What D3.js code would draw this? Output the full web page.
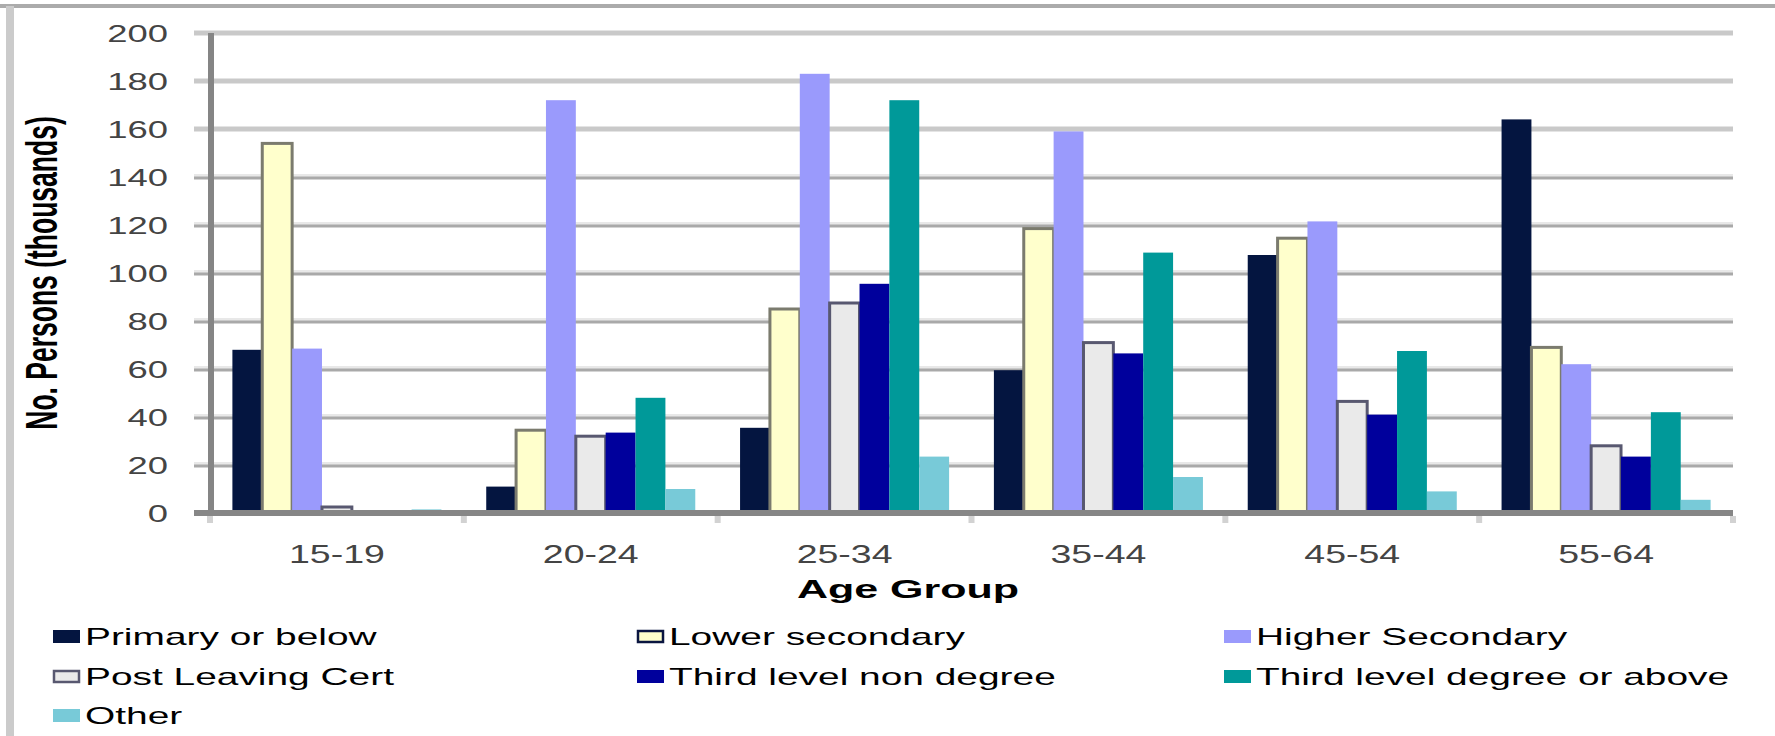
<!DOCTYPE html>
<html>
<head>
<meta charset="utf-8">
<script src="https://cdn.jsdelivr.net/npm/d3@7"></script>
<style>
  html, body { margin: 0; padding: 0; background: #fff; }
  svg { display: block; font-family: "Liberation Sans", Arial, sans-serif; }
</style>
</head>
<body>
<svg id="chart" width="1775" height="736"></svg>
<script>
// categories and series (values in thousands)
const ageGroups = ["15-19", "20-24", "25-34", "35-44", "45-54", "55-64"];
const seriesNames = ["Primary or below", "Lower secondary", "Higher Secondary",
  "Post Leaving Cert", "Third level non degree", "Third level degree or above", "Other"];

const primaryBelow    = [68, 11, 35.5, 59.5, 107.5, 164];
const lowerSecondary  = [154, 34.5, 85, 118.5, 114.5, 69];
const higherSecondary = [68.5, 172, 183, 159, 121.5, 62];
const postLeavingCert = [2.5, 32, 87.5, 71, 46.5, 28];
const thirdNonDegree  = [0, 33.5, 95.5, 66.5, 41, 23.5];
const thirdDegree     = [0, 48, 172, 108.5, 67.5, 42];
const otherEdu        = [1.5, 10, 23.5, 15, 9, 5.5];

const yTicks = [0, 20, 40, 60, 80, 100, 120, 140, 160, 180, 200];

const seriesValues = [primaryBelow, lowerSecondary, higherSecondary,
  postLeavingCert, thirdNonDegree, thirdDegree, otherEdu];

// look of each series: fill, stroke
let seriesStyle = {
  "Primary or below":            ["#041540", "none"],
  "Lower secondary":             ["#ffffcc", "#7b7b6e"],
  "Higher Secondary":            ["#9a9afc", "none"],
  "Post Leaving Cert":           ["#eaeaea", "#585870"],
  "Third level non degree":      ["#00009c", "none"],
  "Third level degree or above": ["#009999", "none"],
  "Other":                       ["#78cad8", "none"]
};

const svg = d3.select("#chart");

// stretched text, the source picture is wider than it is tall
let stretchText = (sel, sx) => sel.attr("transform", function () {
  let t = d3.select(this).attr("data-pos");
  return `${t} scale(${sx},1)`;
});

let x0 = d3.scaleBand().domain(ageGroups).range([210, 1733]);
let x1 = d3.scaleBand().domain(seriesNames).range([0, x0.bandwidth()]).paddingOuter(0.75);
let y = d3.scaleLinear().domain([0, 200]).range([513, 33]);

// outer frame, only top and left edges are visible
svg.append("rect").attr("x", 0).attr("y", 4).attr("width", 1775).attr("height", 4).attr("fill", "#ababab");
svg.append("rect").attr("x", 6).attr("y", 6).attr("width", 8).attr("height", 730).attr("fill", "#cbcbcb");

// gridlines
let grid = svg.append("g");
yTicks.filter(d => d > 0).forEach(d => {
  let gy = y(d);
  if (d >= 160) {
    grid.append("rect").attr("x", 194).attr("y", gy - 2.5).attr("width", 1733 - 194).attr("height", 5).attr("fill", "#c9c9c9");
  } else {
    grid.append("rect").attr("x", 194).attr("y", gy - 3).attr("width", 1733 - 194).attr("height", 3).attr("fill", "#e8e8e8");
    grid.append("rect").attr("x", 194).attr("y", gy - 0.5).attr("width", 1733 - 194).attr("height", 3).attr("fill", "#a9a9a9");
  }
});

// bars
let groups = svg.append("g").selectAll("g")
  .data(ageGroups)
  .join("g")
  .attr("transform", d => `translate(${x0(d)},0)`);

groups.selectAll("rect")
  .data((d, i) => seriesNames.map((s, k) => ({ s: s, v: seriesValues[k][i] })))
  .join("rect")
  .attr("x", d => x1(d.s))
  .attr("y", d => y(d.v))
  .attr("width", x1.bandwidth())
  .attr("height", d => y(0) - y(d.v))
  .attr("fill", d => seriesStyle[d.s][0])
  .attr("stroke", d => seriesStyle[d.s][1])
  .attr("stroke-width", d => seriesStyle[d.s][1] === "none" ? 0 : 3);

// axis lines
svg.append("rect").attr("x", 208).attr("y", 33).attr("width", 6).attr("height", 483).attr("fill", "#858585");
svg.append("rect").attr("x", 194).attr("y", 510).attr("width", 1733 - 194).attr("height", 6).attr("fill", "#868686");

// category tick stubs
svg.append("g").selectAll("rect")
  .data(ageGroups.concat(["end"]))
  .join("rect")
  .attr("x", (d, i) => (i < ageGroups.length ? x0(d) : x0.range()[1]) - 3)
  .attr("y", 516)
  .attr("width", 6)
  .attr("height", 7)
  .attr("fill", "#d2d2d2");

// y axis labels
let yAxis = svg.append("g")
  .attr("transform", "translate(168,0)")
  .call(d3.axisLeft(y).tickValues(yTicks).tickSize(0).tickPadding(0));
yAxis.select(".domain").remove();
yAxis.selectAll("text")
  .attr("x", 0)
  .attr("dy", "0.36em")
  .attr("fill", "#444")
  .attr("font-size", 23.5)
  .attr("font-family", "Liberation Sans, Arial, sans-serif")
  .attr("transform", "scale(1.55,1)");

// x axis labels
let xAxis = svg.append("g")
  .attr("transform", "translate(0,544)")
  .call(d3.axisBottom(x0).tickSize(0).tickPadding(0));
xAxis.select(".domain").remove();
xAxis.selectAll(".tick text")
  .attr("y", 0)
  .attr("dy", "0.75em")
  .attr("fill", "#444")
  .attr("font-size", 25)
  .attr("font-family", "Liberation Sans, Arial, sans-serif")
  .attr("transform", "scale(1.5,1)");

// axis titles
svg.append("text")
  .attr("data-pos", "translate(908,598)")
  .attr("text-anchor", "middle")
  .attr("font-size", 25)
  .attr("font-weight", "bold")
  .attr("fill", "#000")
  .text("Age Group")
  .call(stretchText, 1.72);

svg.append("text")
  .attr("transform", "translate(57,273) rotate(-90) scale(1,1.7)")
  .attr("text-anchor", "middle")
  .attr("font-size", 26.5)
  .attr("font-weight", "bold")
  .attr("fill", "#000")
  .text("No. Persons (thousands)");

// legend, three columns
let legendCols = [53, 637, 1224],
    legendRows = [645, 685, 724];

let legend = svg.append("g").selectAll("g")
  .data(seriesNames)
  .join("g")
  .attr("transform", (d, i) => `translate(${legendCols[i % 3]},${legendRows[Math.floor(i / 3)]})`);

legend.append("rect")
  .attr("x", d => seriesStyle[d][1] === "none" ? 0 : 1)
  .attr("y", d => seriesStyle[d][1] === "none" ? -15 : -14)
  .attr("width", d => seriesStyle[d][1] === "none" ? 27 : 25)
  .attr("height", d => seriesStyle[d][1] === "none" ? 13 : 11)
  .attr("fill", d => seriesStyle[d][0])
  .attr("stroke", d => d === "Lower secondary" ? "#0a1540" : seriesStyle[d][1])
  .attr("stroke-width", d => seriesStyle[d][1] === "none" ? 0 : 2.5);

legend.append("text")
  .attr("transform", "translate(32,0) scale(1.62,1)")
  .attr("font-size", 24)
  .attr("fill", "#000")
  .text(d => d);
</script>
</body>
</html>
